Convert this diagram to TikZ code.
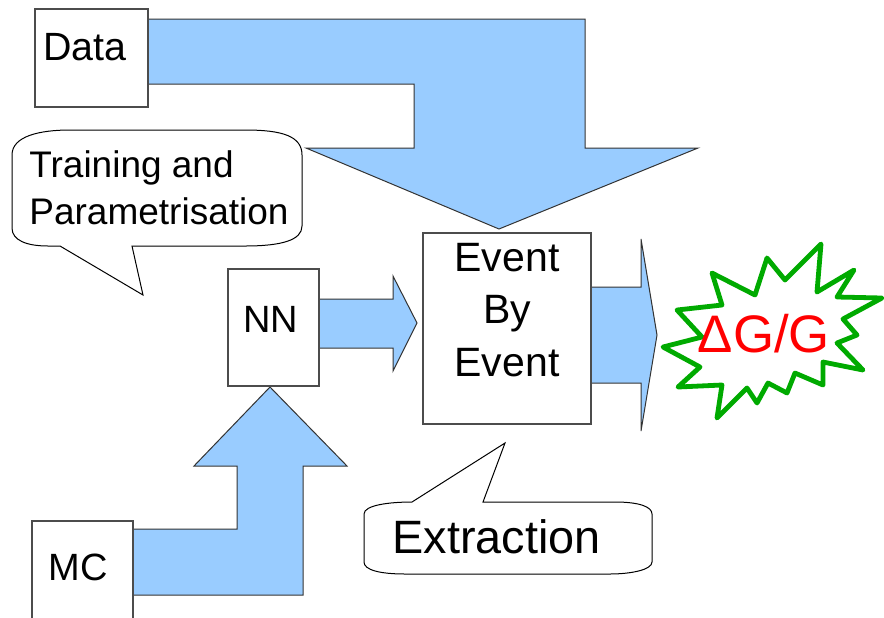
\documentclass[tikz,border=0pt]{standalone}
\usepackage{fontspec}
\setmainfont{Liberation Sans}
\definecolor{azul}{HTML}{99CCFF}
\definecolor{verde}{HTML}{00AA00}

\begin{document}
\begin{tikzpicture}[x=0.5pt, y=-0.5pt,
    seta/.style={fill=azul, draw=black!80, line width=0.5pt},
    caixa/.style={draw=black!70, fill=white, line width=0.6pt},
    balao/.style={draw=black, fill=white, line width=0.5pt},
    texto/.style={inner sep=0pt, font=\fontsize{#1pt}{#1pt}\selectfont}]
    \useasboundingbox (0,0) rectangle (884,617);

    % Seta grande: Data -> Event By Event
    \draw[seta] (148,19) -- (585,19) -- (585,148) -- (698,148) -- (499,229)
        -- (306,148) -- (414,148) -- (414,84) -- (148,84) -- cycle;

    % Seta NN -> Event By Event
    \draw[seta] (319,299) -- (393,299) -- (393,276) -- (417,323) -- (393,371)
        -- (393,348) -- (319,348) -- cycle;

    % Seta MC -> NN
    \draw[seta] (133,529) -- (237,529) -- (237,466) -- (194,466) -- (270,387)
        -- (347,466) -- (303,466) -- (303,595) -- (133,595) -- cycle;

    % Seta Event By Event -> resultado
    \draw[seta] (591,287) -- (641,287) -- (641,239) -- (657,335) -- (641,431)
        -- (641,383) -- (591,383) -- cycle;

    % Caixas
    \draw[caixa] (35,9) rectangle (148,107);
    \node[texto=19.7, anchor=base west] (data) at (43,60) {Data};

    \draw[caixa] (228,269) rectangle (319,386);
    \node[texto=19, anchor=base west] (nn) at (243,332) {NN};

    \draw[caixa] (32,521) rectangle (133,640);
    \node[texto=19, anchor=base west] (mc) at (48,580) {MC};

    \draw[caixa] (423,233) rectangle (591,424);
    \node[texto=20.5, anchor=base] (ebe1) at (507,271) {Event};
    \node[texto=20.5, anchor=base] (ebe2) at (507,323) {By};
    \node[texto=20.5, anchor=base] (ebe3) at (507,376) {Event};

    % Balao: treino
    \draw[balao] (12,228) -- (12,155) .. controls (12,136) and (40,130) .. (70,130)
        -- (245,130) .. controls (282,130) and (302,136) .. (302,155)
        -- (302,226) .. controls (302,240) and (282,246) .. (245,246)
        -- (132,246) -- (143,295) -- (60,246) -- (48,246)
        .. controls (26,246) and (12,240) .. (12,228) -- cycle;
    \node[texto=18.5, anchor=base west] (treino1) at (29,177) {Training and};
    \node[texto=18.5, anchor=base west] (treino2) at (29,224) {Parametrisation};

    % Balao: extracao
    \draw[balao] (364,562) -- (364,514) .. controls (364,505) and (390,502) .. (412,502)
        -- (505,443) -- (483,502) -- (615,502)
        .. controls (640,502) and (652,507) .. (652,514)
        -- (652,562) .. controls (652,570) and (630,574) .. (610,574)
        -- (405,574) .. controls (380,574) and (364,570) .. (364,562) -- cycle;
    \node[texto=23.4, anchor=base west] (extr) at (392,553) {Extraction};

    % Estrela
    \draw[verde, line width=2.4pt, line join=round] (821,244) -- (817,292) -- (854,270)
        -- (837,297) -- (882,298) -- (843,319) -- (857,335) -- (837,343)
        -- (863,370) -- (823,362) -- (823,385) -- (795,373) -- (787,393)
        -- (768,383) -- (757,403) -- (747,388) -- (717,418) -- (722,385)
        -- (678,387) -- (700,367) -- (663,347) -- (702,337) -- (677,310)
        -- (722,305) -- (712,273) -- (755,295) -- (767,258) -- (785,280)
        -- cycle;
    \node[texto=26.4, anchor=base, text=red] (dgg) at (764,352) {ΔG/G};

\end{tikzpicture}
\end{document}
